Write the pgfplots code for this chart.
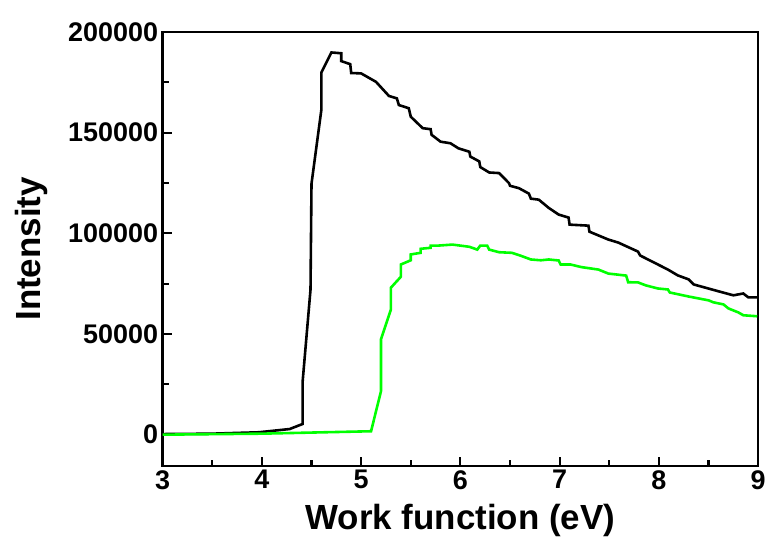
\documentclass[border=0pt]{standalone}
\usepackage{fontspec}
\setmainfont{Liberation Sans}
\usepackage{pgfplots}
\pgfplotsset{compat=1.18}
\definecolor{Lime}{HTML}{00FF00}

\begin{document}
\begin{tikzpicture}
  \begin{axis}[
    scale only axis,
    width=597pt, height=435pt,
    xmin=3, xmax=9,
    ymin=-15500, ymax=200000,
    axis line style={line width=2.6pt},
    xtick={3,4,5,6,7,8,9},
    minor x tick num=1,
    ytick={0,50000,100000,150000,200000},
    yticklabels={0,50000,100000,150000,200000},
    scaled y ticks=false,
    minor y tick num=1,
    tick align=inside,
    xtick pos=bottom, ytick pos=left,
    major tick length=9pt, minor tick length=6pt,
    tick style={line width=2.2pt, black},
    /pgf/number format/assume math mode=true,
    tick label style={font=\fontsize{27}{27}\selectfont\bfseries},
    xticklabel style={yshift=-1pt},
    yticklabel style={xshift=-1pt},
    xlabel={Work function (eV)},
    ylabel={Intensity},
    label style={font=\fontsize{35}{35}\selectfont\bfseries},
    xlabel style={yshift=-8pt},
    ylabel style={yshift=14pt},
  ]
    \addplot[black, line width=2.6pt, line join=miter] coordinates {
      (3.0,300) (3.5,500) (3.97,1200) (4.28,2800) (4.41,5300) (4.41,26000)
      (4.49,72000) (4.50,124600) (4.60,161600) (4.60,179900) (4.70,189800)
      (4.80,189400) (4.80,185500) (4.89,184000) (4.90,179600) (5.00,179400)
      (5.15,175200) (5.28,168200) (5.36,167000) (5.38,163700) (5.48,162100)
      (5.50,157900) (5.62,152200) (5.70,151700) (5.71,148900) (5.80,145500)
      (5.90,144700) (5.98,142200) (6.09,140500) (6.10,138100) (6.19,135700)
      (6.20,132900) (6.29,130200) (6.39,129900) (6.49,124900) (6.50,123600)
      (6.59,122400) (6.69,119700) (6.71,117200) (6.79,116700) (6.89,112600)
      (6.99,109300) (7.09,107800) (7.10,104300) (7.29,103800) (7.30,100800)
      (7.49,96900) (7.59,95400) (7.79,90900) (7.81,89000) (7.99,84500)
      (8.09,82000) (8.19,79100) (8.30,77100) (8.35,74600) (8.60,71200)
      (8.75,69200) (8.85,70100) (8.90,68200) (9.00,68200)
    };
    \addplot[Lime, line width=2.6pt, line join=miter] coordinates {
      (3.0,0) (4.0,500) (5.10,1700) (5.20,21600) (5.20,47400) (5.30,62200)
      (5.30,73000) (5.40,78400) (5.40,84500) (5.50,86600) (5.50,89500)
      (5.60,90300) (5.60,92300) (5.70,92800) (5.70,93900) (5.78,93900)
      (5.92,94400) (6.09,93300) (6.17,91900) (6.20,93900) (6.27,93900)
      (6.29,91900) (6.39,90600) (6.52,90300) (6.60,89000) (6.71,87000)
      (6.81,86600) (6.89,87000) (6.99,86500) (7.01,84500) (7.11,84500)
      (7.22,83200) (7.39,82000) (7.49,80000) (7.67,79000) (7.69,75700)
      (7.79,75600) (7.87,74100) (7.99,72600) (8.09,72100) (8.11,70600)
      (8.30,68600) (8.50,66700) (8.55,65700) (8.65,64700) (8.70,62700)
      (8.75,61700) (8.80,60700) (8.85,59300) (8.99,58800)
    };
  \end{axis}
  \path (current axis.south west) ++(-163pt,-76pt) rectangle ++(769pt,543pt);
\end{tikzpicture}
\end{document}
